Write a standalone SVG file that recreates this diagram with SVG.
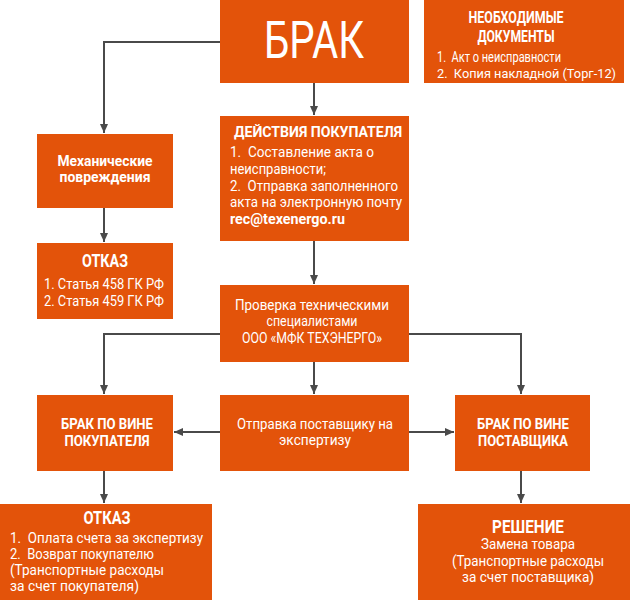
<svg xmlns="http://www.w3.org/2000/svg" width="630" height="600" viewBox="0 0 630 600">
<defs>
<style>
.box{fill:#E3530A}
.t{font-family:Roboto,"Liberation Sans",sans-serif;fill:#fff;font-size:14px;white-space:pre}
.b{font-weight:bold}
.c{text-anchor:middle}
.ln{stroke:#4a4a4a;stroke-width:2;fill:none}
</style>
<marker id="ah" markerWidth="10" markerHeight="10" refX="9" refY="5" orient="auto" markerUnits="userSpaceOnUse">
<path d="M0,1 L9,5 L0,9 Z" fill="#4a4a4a"/>
</marker>
</defs>
<rect width="630" height="600" fill="#fff"/>
<g id="connectors">
<path class="ln" d="M314,83 V115" marker-end="url(#ah)"/>
<path class="ln" d="M220,42 H104 V133" marker-end="url(#ah)"/>
<path class="ln" d="M104,208 V242" marker-end="url(#ah)"/>
<path class="ln" d="M314,241 V284" marker-end="url(#ah)"/>
<path class="ln" d="M220,334 H104 V394" marker-end="url(#ah)"/>
<path class="ln" d="M409,334 H521 V394" marker-end="url(#ah)"/>
<path class="ln" d="M314,362 V394" marker-end="url(#ah)"/>
<path class="ln" d="M220,432 H174" marker-end="url(#ah)"/>
<path class="ln" d="M409,432 H454" marker-end="url(#ah)"/>
<path class="ln" d="M104,471 V503" marker-end="url(#ah)"/>
<path class="ln" d="M521,471 V503" marker-end="url(#ah)"/>
</g>
<g id="brak">
<rect class="box" x="220" y="0" width="189" height="83"/>
<text class="t c" x="314" y="58" style="font-size:51px" textLength="100" lengthAdjust="spacingAndGlyphs">БРАК</text>
</g>
<g id="docs">
<rect class="box" x="424" y="0" width="200" height="83"/>
<text class="t b c" x="516" y="23" style="font-size:16px" textLength="95" lengthAdjust="spacingAndGlyphs">НЕОБХОДИМЫЕ</text>
<text class="t b c" x="516" y="42" style="font-size:16px" textLength="77" lengthAdjust="spacingAndGlyphs">ДОКУМЕНТЫ</text>
<text class="t" x="437" y="62" textLength="124" lengthAdjust="spacingAndGlyphs">1.  Акт о неисправности</text>
<text class="t" x="437" y="78" style="font-size:13px" textLength="179" lengthAdjust="spacingAndGlyphs">2.  Копия накладной (Торг-12)</text>
</g>
<g id="actions">
<rect class="box" x="220" y="116" width="189" height="125"/>
<text class="t b c" x="318" y="137" style="font-size:15px" textLength="168" lengthAdjust="spacingAndGlyphs">ДЕЙСТВИЯ ПОКУПАТЕЛЯ</text>
<text class="t" x="230" y="157" textLength="144" lengthAdjust="spacingAndGlyphs">1.  Составление акта о</text>
<text class="t" x="230" y="174" textLength="96" lengthAdjust="spacingAndGlyphs">неисправности;</text>
<text class="t" x="230" y="191" textLength="168" lengthAdjust="spacingAndGlyphs">2.  Отправка заполненного</text>
<text class="t" x="230" y="207" textLength="172" lengthAdjust="spacingAndGlyphs">акта на электронную почту</text>
<text class="t b" x="230" y="224" textLength="115" lengthAdjust="spacingAndGlyphs">rec@texenergo.ru</text>
</g>
<g id="mech">
<rect class="box" x="37" y="134" width="136" height="74"/>
<text class="t b c" x="105" y="166" textLength="95" lengthAdjust="spacingAndGlyphs">Механические</text>
<text class="t b c" x="105" y="182" textLength="91" lengthAdjust="spacingAndGlyphs">повреждения</text>
</g>
<g id="otkaz1">
<rect class="box" x="37" y="243" width="136" height="76"/>
<text class="t b c" x="105" y="267" style="font-size:18px" textLength="46" lengthAdjust="spacingAndGlyphs">ОТКАЗ</text>
<text class="t c" x="104" y="289" textLength="120" lengthAdjust="spacingAndGlyphs">1. Статья 458 ГК РФ</text>
<text class="t c" x="104" y="306" textLength="120" lengthAdjust="spacingAndGlyphs">2. Статья 459 ГК РФ</text>
</g>
<g id="check">
<rect class="box" x="220" y="285" width="189" height="77"/>
<text class="t c" x="312" y="310" textLength="154" lengthAdjust="spacingAndGlyphs">Проверка техническими</text>
<text class="t c" x="312" y="326" textLength="91" lengthAdjust="spacingAndGlyphs">специалистами</text>
<text class="t c" x="312" y="343" textLength="140" lengthAdjust="spacingAndGlyphs">ООО «МФК ТЕХЭНЕРГО»</text>
</g>
<g id="buyer">
<rect class="box" x="37" y="395" width="136" height="76"/>
<text class="t b c" x="107" y="429" style="font-size:15px" textLength="92" lengthAdjust="spacingAndGlyphs">БРАК ПО ВИНЕ</text>
<text class="t b c" x="107" y="446" style="font-size:15px" textLength="85" lengthAdjust="spacingAndGlyphs">ПОКУПАТЕЛЯ</text>
</g>
<g id="send">
<rect class="box" x="220" y="395" width="189" height="76"/>
<text class="t c" x="315" y="429" textLength="156" lengthAdjust="spacingAndGlyphs">Отправка поставщику на</text>
<text class="t c" x="315" y="445" textLength="72" lengthAdjust="spacingAndGlyphs">экспертизу</text>
</g>
<g id="supplier">
<rect class="box" x="455" y="395" width="135" height="76"/>
<text class="t b c" x="523" y="429" style="font-size:15px" textLength="92" lengthAdjust="spacingAndGlyphs">БРАК ПО ВИНЕ</text>
<text class="t b c" x="523" y="446" style="font-size:15px" textLength="90" lengthAdjust="spacingAndGlyphs">ПОСТАВЩИКА</text>
</g>
<g id="otkaz2">
<rect class="box" x="0" y="504" width="212" height="96"/>
<text class="t b c" x="107" y="524" style="font-size:18px" textLength="47" lengthAdjust="spacingAndGlyphs">ОТКАЗ</text>
<text class="t" x="10" y="543" textLength="193" lengthAdjust="spacingAndGlyphs">1.  Оплата счета за экспертизу</text>
<text class="t" x="10" y="559" textLength="144" lengthAdjust="spacingAndGlyphs">2.  Возврат покупателю</text>
<text class="t" x="10" y="575" textLength="154" lengthAdjust="spacingAndGlyphs">(Транспортные расходы</text>
<text class="t" x="10" y="591" textLength="129" lengthAdjust="spacingAndGlyphs">за счет покупателя)</text>
</g>
<g id="decision">
<rect class="box" x="418" y="504" width="212" height="96"/>
<text class="t b c" x="528" y="533" style="font-size:18px" textLength="72" lengthAdjust="spacingAndGlyphs">РЕШЕНИЕ</text>
<text class="t c" x="528" y="549" textLength="94" lengthAdjust="spacingAndGlyphs">Замена товара</text>
<text class="t c" x="528" y="566" textLength="152" lengthAdjust="spacingAndGlyphs">(Транспортные расходы</text>
<text class="t c" x="528" y="582" textLength="132" lengthAdjust="spacingAndGlyphs">за счет поставщика)</text>
</g>
</svg>
